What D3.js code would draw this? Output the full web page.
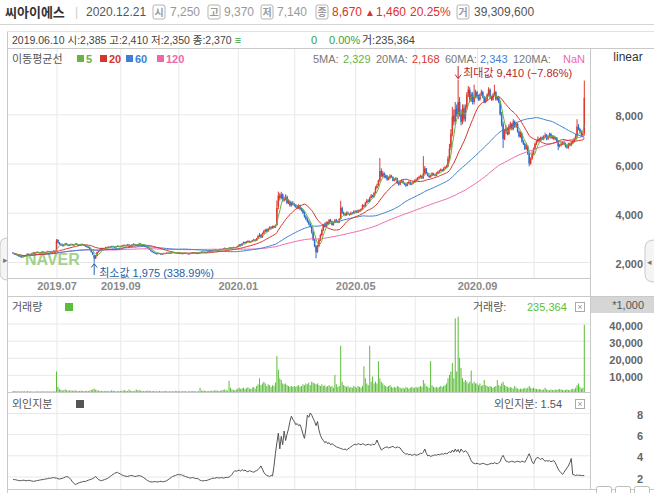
<!DOCTYPE html>
<html><head><meta charset="utf-8">
<script src="https://cdn.jsdelivr.net/npm/d3@7"></script>
<style>
body{margin:0;background:#fff}
svg{display:block}
text{font-family:'Liberation Sans','Noto Sans CJK KR',sans-serif}
</style>
</head><body><svg id="c" width="654" height="493"></svg>
<script>
// ---------------- DATA (daily, 2019.05.20 – 2020.12.21) ----------------
const close = [
2350,2320,2300,2260,2240,2210,2200,2230,2250,2280,2300,2290,2320,2350,2370,2380,2400,2380,2360,2390,2420,2400,2380,2410,2440,2420,2400,2430,2450,2430,
2850,2780,2720,2700,2650,2680,2740,2700,2660,2700,2720,2690,2700,2730,2710,2680,2700,2720,2690,2660,2640,2600,2580,
2500,2400,2300,2150,2250,2400,2450,2500,2550,2520,2560,2600,2580,2620,2600,2640,2620,2600,2630,2650,2620,
2640,2660,2680,2650,2690,2700,2680,2660,2700,2720,2700,2680,2710,2740,2720,2700,2680,2650,2600,
2550,2500,2450,2400,2380,2350,2330,2360,2340,2310,2330,2360,2350,2380,2370,2350,2380,2400,2390,2370,2380,
2380,2360,2340,2350,2370,2360,2340,2330,2350,2370,2390,2380,2360,2350,2370,2400,2420,2410,2390,2400,2420,
2440,2460,2450,2480,2500,2480,2470,2500,2520,2510,2540,2560,2530,2550,2580,2560,2590,2600,2580,2610,
2650,2700,2680,2750,2800,2780,2820,2850,2800,2830,2880,2900,2860,2950,3050,3100,3000,3150,3250,
3300,3250,3350,3400,3380,3450,3400,3500,4200,4700,4600,4750,4500,4550,4650,4400,4450,4300,4400,4350,
4300,4250,4200,4300,4150,4100,4000,3850,3750,3650,3550,3450,3200,2900,2650,2400,2650,2900,3100,3300,3500,3450,
3600,3550,3700,3650,3500,3600,3700,3650,3600,3750,4200,4000,3950,3900,4000,3950,3920,4000,3960,4050,
4050,4000,4100,4080,4150,4300,4250,4400,4500,4450,4600,4700,4650,4800,5000,5100,5300,5700,5500,
5600,5450,5500,5350,5400,5500,5450,5300,5350,5400,5200,5150,5250,5300,5200,5150,5100,5200,5250,5150,5200,5250,
5300,5350,5400,5450,5500,5400,5600,5800,5600,5500,5450,5500,5600,5550,5500,5600,5650,5700,5750,5700,5800,5850,5900,
6200,6600,7200,7900,7700,8200,8000,8500,8000,7700,8200,7800,8300,8800,9000,8600,8800,8500,8700,8900,
8700,8600,8800,8900,8700,8500,8600,8800,9000,8700,8600,8800,8900,8600,8700,8500,8000,7600,7000,7300,
7400,7200,7500,7600,7400,7700,7500,7600,7300,7100,7200,6900,6800,6600,6700,6400,6000,6200,6400,
6600,6800,6900,7000,6950,7050,7000,7100,7150,7000,7100,7200,7050,7100,7000,7050,6900,6700,6750,6800,6850,
6800,6700,6650,6800,6750,6850,6900,7000,7100,7500,7400,7300,7150,7210,8670];
const open = [
2380,2350,2330,2300,2270,2250,2220,2200,2230,2260,2280,2310,2290,2320,2385,2370,2380,2410,2390,2360,2390,2420,2400,2380,2410,2440,2420,2400,2430,2460,
2450,2900,2790,2730,2700,2650,2690,2750,2700,2660,2700,2720,2690,2700,2740,2710,2680,2700,2730,2690,2670,2640,2610,
2580,2500,2400,2280,2150,2250,2400,2450,2500,2560,2520,2560,2600,2580,2620,2600,2640,2620,2600,2630,2650,
2620,2640,2660,2690,2650,2690,2710,2680,2660,2700,2730,2700,2680,2710,2750,2720,2700,2680,2650,
2600,2550,2500,2450,2400,2380,2350,2330,2360,2340,2310,2330,2360,2350,2380,2370,2350,2380,2400,2390,2370,
2380,2380,2360,2340,2350,2370,2360,2340,2330,2350,2370,2390,2380,2360,2350,2370,2400,2420,2410,2390,2400,
2420,2440,2460,2450,2480,2500,2480,2470,2500,2520,2510,2540,2560,2530,2550,2580,2560,2590,2600,2580,
2610,2650,2710,2680,2750,2810,2780,2820,2860,2800,2830,2880,2910,2860,2950,3050,3110,3000,3150,
3250,3310,3250,3350,3410,3380,3460,3400,3500,4250,4700,4600,4750,4500,4550,4650,4400,4450,4300,4400,
4350,4300,4250,4200,4300,4150,4100,4000,3850,3750,3650,3550,3450,3200,2900,2650,2400,2650,2900,3100,3300,3500,
3450,3600,3550,3700,3650,3500,3600,3700,3650,3600,3750,4200,4000,3950,3900,4000,3950,3920,4000,3960,
4050,4060,4000,4100,4080,4150,4300,4250,4400,4500,4450,4600,4700,4650,4800,5000,5100,5300,5700,
5500,5600,5450,5500,5350,5400,5500,5450,5300,5350,5400,5200,5150,5250,5300,5200,5150,5100,5200,5250,5150,5200,
5250,5300,5350,5400,5450,5500,5400,5600,5800,5600,5500,5450,5500,5600,5550,5500,5600,5650,5700,5750,5700,5800,5850,
5900,6200,6650,7200,7950,7700,8250,8000,8500,8000,7700,8250,7800,8300,8800,9000,8600,8800,8500,8700,
8900,8700,8600,8800,8900,8700,8500,8600,8800,9000,8700,8600,8800,8900,8600,8700,8500,8000,7600,7000,
7300,7400,7200,7500,7600,7400,7700,7500,7600,7300,7100,7200,6900,6800,6600,6700,6400,6000,6200,
6400,6600,6800,6900,7000,6950,7050,7000,7100,7150,7000,7100,7200,7050,7100,7000,7050,6900,6700,6750,6800,
6850,6800,6700,6650,6800,6750,6850,6900,7000,7100,7500,7400,7300,7150,7250];
const high = [
2400,2370,2350,2320,2290,2260,2240,2250,2270,2300,2320,2330,2340,2370,2410,2400,2420,2430,2400,2400,2440,2430,2410,2420,2460,2450,2430,2450,2480,2470,
2930,2920,2810,2760,2720,2700,2780,2770,2720,2720,2750,2740,2720,2760,2770,2720,2720,2750,2740,2700,2690,2660,2630,
2600,2520,2420,2300,2280,2420,2480,2530,2580,2580,2580,2620,2620,2640,2640,2660,2660,2630,2650,2680,2670,
2660,2680,2710,2700,2710,2730,2720,2690,2720,2760,2740,2710,2730,2780,2760,2730,2710,2690,2660,
2610,2560,2510,2460,2420,2390,2360,2380,2370,2350,2340,2380,2370,2390,2390,2380,2390,2420,2410,2400,2390,
2400,2390,2370,2360,2380,2380,2370,2350,2360,2380,2400,2400,2390,2370,2380,2410,2430,2430,2420,2410,2430,
2460,2480,2470,2500,2520,2510,2490,2510,2540,2530,2560,2590,2570,2560,2600,2590,2610,2620,2610,2630,
2670,2730,2730,2770,2830,2830,2850,2880,2870,2850,2900,2940,2920,2980,3100,3180,3120,3200,3300,
3350,3350,3380,3450,3450,3480,3480,3520,4500,4860,4800,4850,4780,4650,4750,4700,4550,4500,4450,4480,
4400,4350,4300,4350,4320,4200,4150,4050,3900,3800,3700,3600,3480,3250,2950,2700,2700,2950,3150,3350,3550,3600,
3650,3650,3750,3750,3680,3650,3750,3750,3680,3780,4490,4250,4050,4000,4050,4050,3980,4050,4030,4100,
4100,4100,4130,4130,4180,4350,4330,4450,4560,4550,4650,4760,4730,4850,5080,5180,5350,6220,5800,
5700,5650,5550,5530,5450,5560,5540,5480,5400,5450,5420,5250,5300,5350,5320,5230,5200,5250,5300,5280,5230,5300,
5350,5400,5450,5500,5550,5520,6300,5900,5820,5650,5550,5550,5650,5620,5580,5650,5700,5750,5800,5780,5850,5900,5950,
6300,6800,7400,8300,8200,8500,8400,9410,8700,8200,8400,8400,8400,8900,9150,9100,8900,8900,9200,9000,
8950,8800,8850,9000,8950,8750,8700,8850,9100,9050,8750,8850,9200,8950,8750,8750,8550,8100,7700,7400,
7550,7450,7600,7700,7650,7800,7750,7700,7650,7350,7300,7250,6950,6850,6800,6750,6450,6250,6500,
6650,6850,6950,7100,7050,7100,7100,7150,7250,7200,7150,7250,7250,7150,7150,7100,7080,6950,6800,6850,6900,
6900,6850,6750,6850,6850,6900,6950,7050,7200,7800,7600,7450,7350,7300,9370];
const low = [
2340,2300,2280,2250,2220,2190,2180,2190,2220,2250,2270,2280,2280,2310,2350,2360,2370,2370,2350,2350,2380,2390,2370,2370,2400,2410,2390,2390,2420,2420,
2440,2760,2700,2680,2630,2640,2680,2690,2640,2650,2690,2680,2670,2690,2700,2660,2670,2690,2680,2650,2620,2590,2560,
2480,2380,2280,1975,2120,2230,2380,2430,2480,2500,2510,2550,2560,2570,2590,2590,2610,2590,2590,2620,2610,
2600,2620,2650,2640,2640,2680,2670,2650,2650,2690,2690,2670,2670,2700,2710,2690,2670,2640,2590,
2540,2490,2430,2390,2360,2340,2310,2320,2330,2300,2300,2320,2340,2340,2360,2340,2340,2370,2380,2360,2360,
2360,2350,2330,2330,2340,2350,2330,2320,2320,2340,2360,2370,2350,2340,2340,2360,2390,2400,2380,2380,2390,
2410,2430,2440,2440,2470,2470,2460,2460,2490,2500,2500,2530,2520,2520,2540,2550,2550,2580,2570,2570,
2600,2640,2660,2670,2740,2760,2770,2810,2790,2790,2820,2870,2850,2850,2940,3020,2980,2990,3130,
3200,3220,3230,3330,3350,3360,3380,3380,3480,4150,4500,4550,4450,4450,4500,4350,4350,4250,4250,4300,
4250,4200,4150,4150,4100,4050,3950,3800,3700,3600,3500,3400,3150,2850,2600,2150,2380,2600,2850,3050,3250,3400,
3420,3520,3530,3620,3480,3480,3580,3620,3580,3580,3720,3950,3900,3860,3880,3920,3880,3900,3930,3940,
4000,3980,3990,4060,4060,4130,4220,4230,4380,4420,4430,4580,4620,4620,4780,4980,5080,5250,5450,
5450,5400,5400,5300,5320,5380,5420,5280,5280,5320,5180,5100,5120,5220,5180,5120,5050,5080,5180,5120,5120,5170,
5220,5280,5320,5380,5420,5380,5380,5550,5580,5480,5420,5420,5480,5520,5480,5480,5580,5620,5680,5680,5680,5780,5820,
5850,6100,6550,7100,7550,7600,7900,7800,7900,7550,7600,7700,7700,8200,8700,8500,8500,8400,8400,8650,
8650,8550,8550,8750,8650,8450,8450,8550,8750,8650,8550,8550,8750,8550,8550,8450,7950,7500,6630,6950,
7200,7150,7150,7400,7350,7350,7450,7450,7250,7050,7050,6850,6750,6550,6550,6350,5890,5950,6150,
6350,6550,6750,6850,6900,6900,6950,6950,7050,6950,6950,7050,7000,7000,6950,6950,6850,6550,6650,6700,6750,
6750,6650,6600,6600,6700,6700,6800,6850,6950,7050,7350,7250,7100,7100,7140];
// volume, in thousands of shares
const volume = [
600,500,450,400,500,350,400,450,380,420,500,400,350,380,235,300,350,420,380,300,450,380,350,400,420,380,300,350,420,380,
12000,3000,1800,1200,1000,900,1500,1100,800,900,1000,700,800,900,700,600,700,800,600,500,600,700,600,
900,1200,1500,2000,1300,1000,800,700,600,600,500,700,600,500,600,1000,800,600,500,500,600,
700,600,800,1100,700,600,1400,800,600,500,700,1500,900,1200,800,600,500,600,700,
800,700,600,500,600,500,400,500,600,500,400,500,600,500,400,450,500,400,450,500,600,
500,450,400,500,550,400,350,400,500,450,600,500,400,450,500,2500,700,900,800,600,500,
600,700,800,600,900,1000,700,600,800,1000,1200,1500,1000,800,6500,2500,1500,1200,1000,1500,
2000,2500,1800,2200,2500,1800,2200,2800,2000,1800,2500,3000,2000,3500,4500,8000,4000,5000,6000,
5000,3500,4500,4000,3000,4000,3500,5500,21000,13000,8000,7000,5000,4500,5000,4000,3500,3000,3500,3000,
3500,3000,3500,4000,3000,3500,4500,4000,5000,4500,5500,4000,6000,5500,5000,4500,5000,4000,3500,4500,3500,4000,
3000,3500,4000,3000,3500,2500,10000,4500,3000,3500,27000,6000,4000,3500,3000,3500,2500,3000,2500,3500,
3000,2500,3500,3000,2500,3500,15000,8000,5000,4000,27000,6000,9000,5000,6000,5000,18000,8000,6000,
5000,4000,3500,3000,3500,4000,3000,2500,3000,2500,3500,3000,2500,2000,2500,2000,3000,2500,2000,2500,3000,2500,
2500,3000,2500,3000,3500,3000,7000,5000,3500,3000,2500,18000,4000,3000,2500,3000,2500,3000,3500,3000,3500,4000,5000,
8000,10000,12000,17000,8000,43000,12000,44000,20000,14000,8000,6000,7000,6000,5000,6000,12500,5000,6000,5000,
5000,4000,5000,3500,4000,7000,4000,3500,3000,3500,3000,2500,3000,3500,7000,4000,3500,5000,6000,4000,
3500,3000,2500,3000,2500,2000,3500,2500,2000,1500,2000,1800,2000,2500,2000,2500,3500,2500,2000,
2500,2000,1800,1500,1800,1500,1200,1500,2500,1500,1200,1000,1500,1200,1000,1500,1200,1500,1800,1500,1200,
1000,1200,1500,1200,1000,1500,2000,1500,2500,4000,5000,3000,2000,2500,39310];
// foreign ownership, %
const foreign = [
1.70,1.72,1.68,1.65,1.62,1.60,1.62,1.65,1.63,1.60,1.62,1.64,1.60,1.58,1.54,1.56,1.60,1.62,1.65,1.68,1.70,1.72,1.75,1.78,1.80,1.85,1.82,1.88,1.90,1.86,
1.85,1.80,1.75,1.80,1.82,1.88,1.95,2.00,1.95,1.85,1.70,1.50,1.35,1.25,1.30,1.38,1.42,1.48,1.50,1.55,1.52,1.60,1.65,
1.70,1.75,1.80,1.90,2.00,1.85,1.70,1.65,1.60,1.65,1.70,1.75,1.80,1.90,2.00,2.10,2.20,2.30,2.35,2.40,2.30,
2.25,2.15,2.10,2.05,2.02,2.00,2.05,2.08,2.10,2.05,2.00,2.02,2.06,2.08,2.05,2.00,1.90,1.80,1.70,
1.60,1.52,1.50,1.48,1.50,1.52,1.50,1.48,1.52,1.55,1.50,1.52,1.55,1.60,1.70,1.80,1.90,2.00,2.05,2.10,2.15,
2.20,2.15,2.18,2.10,2.05,2.00,1.95,1.90,1.85,1.88,1.90,1.85,1.80,1.82,1.75,1.65,1.60,1.58,1.62,1.60,1.65,
1.70,1.75,1.80,1.85,1.82,1.88,1.90,1.85,1.88,1.90,1.85,1.88,1.92,1.90,1.95,2.05,2.20,2.40,2.55,2.50,
2.55,2.60,2.50,2.65,2.55,2.60,2.50,2.45,2.55,2.50,2.45,2.40,2.50,2.55,2.65,2.80,3.00,2.70,2.40,
2.20,2.10,2.05,2.00,2.10,2.05,3.00,4.20,5.20,6.10,4.60,5.80,5.00,6.30,5.40,6.00,6.50,7.20,7.70,7.40,
7.20,6.90,7.00,6.80,6.90,6.50,6.00,5.60,6.50,7.80,7.60,8.00,7.80,7.50,7.20,6.80,7.20,6.40,5.90,5.60,5.40,5.20,
5.30,5.10,5.20,5.00,5.10,5.00,4.90,4.80,4.75,4.70,4.65,4.60,4.55,4.60,4.50,4.60,4.70,4.80,4.90,5.00,
5.05,5.00,5.10,5.05,5.00,5.10,5.05,4.95,5.00,5.05,5.00,4.95,5.05,5.00,5.10,5.45,5.10,4.80,4.50,
4.60,4.70,4.75,4.80,4.70,4.75,4.80,4.85,4.75,4.70,4.80,4.75,4.70,4.50,4.30,4.20,4.10,4.15,4.05,4.10,4.00,4.05,
4.10,4.00,4.05,4.10,4.20,4.15,4.30,4.60,4.20,3.95,4.00,3.90,3.95,4.00,4.05,4.00,4.10,4.05,4.10,4.15,4.10,4.20,4.15,
4.20,4.35,4.25,4.50,4.30,4.60,4.35,4.55,4.25,4.60,4.40,4.30,4.45,4.30,4.10,3.80,3.50,3.30,3.25,3.20,
3.25,3.20,3.15,3.20,3.25,3.20,3.15,3.10,3.15,3.20,3.25,3.20,3.30,3.25,3.20,3.30,3.40,3.80,4.00,3.70,
3.45,3.40,3.35,3.40,3.45,3.40,3.35,3.40,3.45,3.40,3.35,3.45,3.40,3.35,3.60,3.90,4.15,3.80,3.40,
3.20,3.50,3.75,3.80,3.70,3.60,3.75,3.55,3.45,3.50,3.45,3.50,3.40,3.45,3.50,3.30,3.00,2.70,2.50,2.35,2.20,
2.40,2.60,2.80,3.00,3.30,3.70,2.20,2.15,2.10,2.15,2.10,2.12,2.10,2.08,2.10];
// axis ticks / labels
const monthGridIdx = [30,74,114,155,194,236,277,320,359];
const xLabelIdx = [30,74,155,236,320];
const xLabels = ["2019.07","2019.09","2020.01","2020.05","2020.09"];
const priceTicks = [2000,4000,6000,8000];
const volTicks = [10000,20000,30000,40000];
const frgTicks = [2,4,6,8];
const maPeriods = [5,20,60,120];
const maColors = ["#6ab343","#d5352c","#3d7fd3","#ef67ab"];

// ---------------- CHART ----------------
const N = close.length;
[open,high,low,volume,foreign].forEach((a,k)=>{ if(a.length!==N) throw new Error("length mismatch "+k+": "+a.length+" vs "+N); });

const UP="#dc3a2e", DN="#2d6dcf", GRID="#e8e8e8", BORDER="#c9c9c9";
const svg=d3.select("#c");
svg.append("rect").attr("width",654).attr("height",493).attr("fill","#fff");

const PL=8, PR=590;
const x=d3.scaleLinear().domain([0,N-1]).range([13,584.3]);
const y=d3.scaleLinear().domain([2000,8000]).range([262,114.3]);
const vy=d3.scaleLinear().domain([0,40000]).range([392,323.5]);
const fy=d3.scaleLinear().domain([2,8]).range([476.5,413]);

const defs=svg.append("defs");
defs.append("clipPath").attr("id","cp").append("rect").attr("x",PL).attr("y",48).attr("width",PR-PL).attr("height",230);
defs.append("clipPath").attr("id","cv").append("rect").attr("x",PL).attr("y",297).attr("width",PR-PL).attr("height",95);
defs.append("clipPath").attr("id","cf").append("rect").attr("x",PL).attr("y",393).attr("width",PR-PL).attr("height",96);

// grids
function vgrid(top,h){
  const g=svg.append("g").attr("transform",`translate(0,${top})`)
    .call(d3.axisBottom(x).tickValues(monthGridIdx).tickSize(h).tickFormat(""));
  g.select(".domain").remove(); g.selectAll("line").attr("stroke",GRID);
}
function hgrid(scale,ticks){
  const g=svg.append("g").attr("transform",`translate(${PL},0)`)
    .call(d3.axisRight(scale).tickValues(ticks).tickSize(PR-PL).tickFormat(""));
  g.select(".domain").remove(); g.selectAll("line").attr("stroke",GRID);
}
vgrid(48,230); vgrid(297,95); vgrid(393,96);
hgrid(y,priceTicks); hgrid(vy,volTicks); hgrid(fy,frgTicks);

// frame lines
const fr=svg.append("g").attr("stroke",BORDER).attr("shape-rendering","crispEdges");
fr.append("line").attr("x1",0).attr("x2",654).attr("y1",24.5).attr("y2",24.5).attr("stroke","#d5d5d5");
fr.append("line").attr("x1",7.5).attr("x2",7.5).attr("y1",31).attr("y2",493);
fr.append("line").attr("x1",7).attr("x2",654).attr("y1",31.5).attr("y2",31.5).attr("stroke","#e2e2e2");
fr.append("line").attr("x1",7).attr("x2",654).attr("y1",48.5).attr("y2",48.5);
fr.append("line").attr("x1",PR+.5).attr("x2",PR+.5).attr("y1",48).attr("y2",490);
fr.append("line").attr("x1",7).attr("x2",PR).attr("y1",278.5).attr("y2",278.5);
fr.append("line").attr("x1",7).attr("x2",654).attr("y1",296.5).attr("y2",296.5);
fr.append("line").attr("x1",7).attr("x2",PR).attr("y1",392.5).attr("y2",392.5);
fr.append("line").attr("x1",7).attr("x2",654).attr("y1",489.5).attr("y2",489.5);

// NAVER watermark
svg.append("text").attr("x",25).attr("y",265).text("NAVER")
  .attr("font-size",16).attr("font-weight","bold").attr("fill","#7cc05c").attr("opacity",0.7);

// candles
const cg=svg.append("g").attr("clip-path","url(#cp)");
const idx=d3.range(N);
cg.selectAll("line.w").data(idx).join("line")
  .attr("x1",i=>x(i)).attr("x2",i=>x(i))
  .attr("y1",i=>y(Math.max(high[i],open[i],close[i])))
  .attr("y2",i=>y(Math.min(low[i],open[i],close[i])))
  .attr("stroke",i=>close[i]>=open[i]?UP:DN).attr("stroke-width",1);
cg.selectAll("rect.b").data(idx).join("rect")
  .attr("x",i=>x(i)-0.75).attr("width",1.5)
  .attr("y",i=>y(Math.max(open[i],close[i])))
  .attr("height",i=>Math.max(1,Math.abs(y(open[i])-y(close[i]))))
  .attr("fill",i=>close[i]>=open[i]?UP:DN);

// moving averages
function ma(p){ return close.map((_,i)=>d3.mean(close.slice(Math.max(0,i-p+1),i+1))); }
const line=d3.line().x((d,i)=>x(i)).y(d=>y(d));
[3,2,1,0].forEach(k=>{
  cg.append("path").datum(ma(maPeriods[k])).attr("d",line)
    .attr("fill","none").attr("stroke",maColors[k]).attr("stroke-width",1);
});

// max / min markers
const iMax=d3.maxIndex(high), iMin=d3.minIndex(low);
const ann=svg.append("g");
ann.append("line").attr("x1",x(iMax)).attr("x2",x(iMax)).attr("y1",66).attr("y2",y(high[iMax])-1).attr("stroke","#b8262a");
ann.append("path").attr("d",`M${x(iMax)-3},${y(high[iMax])-5}L${x(iMax)},${y(high[iMax])-1}L${x(iMax)+3},${y(high[iMax])-5}`).attr("fill","none").attr("stroke","#b8262a");
ann.append("text").attr("x",x(iMax)+5).attr("y",77).attr("font-size",11).attr("fill","#b8262a")
  .text(`최대값 ${d3.format(",")(high[iMax])} (−${d3.format(".2f")((1-close[N-1]/high[iMax])*100)}%)`);
ann.append("line").attr("x1",x(iMin)).attr("x2",x(iMin)).attr("y1",y(low[iMin])+1).attr("y2",275).attr("stroke","#2561a8");
ann.append("path").attr("d",`M${x(iMin)-3},${y(low[iMin])+5}L${x(iMin)},${y(low[iMin])+1}L${x(iMin)+3},${y(low[iMin])+5}`).attr("fill","none").attr("stroke","#2561a8");
ann.append("text").attr("x",x(iMin)+5).attr("y",277).attr("font-size",11).attr("fill","#2561a8")
  .text(`최소값 ${d3.format(",")(low[iMin])} (${d3.format(".2f")((close[N-1]/low[iMin]-1)*100)}%)`);

// volume bars
const vg=svg.append("g").attr("clip-path","url(#cv)");
vg.selectAll("rect").data(idx).join("rect")
  .attr("x",i=>x(i)-0.5).attr("width",1)
  .attr("y",i=>vy(volume[i])).attr("height",i=>vy(0)-vy(volume[i]))
  .attr("fill","#5cbd3a");

// foreign line
svg.append("g").attr("clip-path","url(#cf)").append("path").datum(foreign)
  .attr("d",d3.line().x((d,i)=>x(i)).y(d=>fy(d)))
  .attr("fill","none").attr("stroke","#555").attr("stroke-width",1);

// axes labels
function yAxis(scale,ticks,fmt,dy){
  const g=svg.append("g").attr("transform",`translate(643,${dy})`)
    .call(d3.axisLeft(scale).tickValues(ticks).tickSize(0).tickPadding(0).tickFormat(fmt));
  g.select(".domain").remove();
  g.selectAll("text").attr("font-size",11).attr("font-weight","bold").attr("fill","#666")
    .style("font-family","'Liberation Sans',sans-serif");
}
yAxis(y,priceTicks,d3.format(","),2);
yAxis(vy,volTicks,d3.format(","),2);
yAxis(fy,frgTicks,d3.format("d"),2);

const xa=svg.append("g").attr("transform","translate(0,282)")
  .call(d3.axisBottom(x).tickValues(xLabelIdx).tickSize(0).tickPadding(0).tickFormat((d,i)=>xLabels[i]));
xa.select(".domain").remove();
xa.selectAll("text").attr("font-size",11).attr("font-weight","bold").attr("fill","#8a8a8a");

// ---------------- header / legends ----------------
function t(xp,yp,s,o={}){
  const e=svg.append("text").attr("x",xp).attr("y",yp).text(s)
    .attr("font-size",o.size||11).attr("fill",o.fill||"#333");
  if(o.bold) e.attr("font-weight","bold");
  if(o.anchor) e.attr("text-anchor",o.anchor);
  return e;
}
function box(xp,ch){
  svg.append("rect").attr("x",xp).attr("y",5).attr("width",12).attr("height",14).attr("rx",2)
    .attr("fill","#fff").attr("stroke","#b3b3b3");
  t(xp+6,16,ch,{size:10,fill:"#9a9a9a",anchor:"middle",bold:true});
}
t(5,17,"씨아이에스",{size:13,bold:true,fill:"#333"});
t(75,16,"|",{size:12,fill:"#ccc"});
t(86,16,"2020.12.21",{size:12,fill:"#555"});
box(153,"시"); t(170,16,"7,250",{size:12,fill:"#999"});
box(208,"고"); t(224,16,"9,370",{size:12,fill:"#999"});
box(261,"저"); t(277,16,"7,140",{size:12,fill:"#999"});
box(316,"종"); t(332,16,"8,670",{size:12,fill:"#e0302a"});
t(365,16,"▲",{size:10,fill:"#e0302a"}); t(376,16,"1,460",{size:12,fill:"#e0302a"});
t(410,16,"20.25%",{size:12,fill:"#e0302a"});
box(457,"거"); t(474,16,"39,309,600",{size:12,fill:"#555"});

// info row
const info=t(12,44,"2019.06.10 시:2,385 고:2,410 저:2,350 종:2,370",{size:10.5,fill:"#444"});
const infoW=info.node().getComputedTextLength();
t(12+infoW+3,44,"≡",{size:11,fill:"#3aa13a"});
t(311,44,"0",{size:11,fill:"#3aa13a"});
t(329,44,"0.00%",{size:11,fill:"#3aa13a"});
t(362,44,"거:235,364",{size:11,fill:"#444"});

// price legend
t(12,63,"이동평균선",{size:11,fill:"#555"});
const legX=[77,100,126,157];
maPeriods.forEach((p,k)=>{
  svg.append("rect").attr("x",legX[k]).attr("y",55).attr("width",7).attr("height",7).attr("fill",maColors[k]);
  t(legX[k]+9,63,String(p),{size:11,bold:true,fill:maColors[k]});
});
t(313,63,"5MA:",{fill:"#777"}); t(343,63,"2,329",{fill:"#6ab343"});
t(376,63,"20MA:",{fill:"#777"}); t(412,63,"2,168",{fill:"#d5352c"});
t(445,63,"60MA:",{fill:"#777"}); t(480,63,"2,343",{fill:"#3d7fd3"});
t(513,63,"120MA:",{fill:"#777"}); t(563,63,"NaN",{fill:"#ef67ab"});
t(628,61,"linear",{size:12,fill:"#333",anchor:"middle"});

// volume legend
t(12,311,"거래량",{size:11,fill:"#555"});
svg.append("rect").attr("x",65).attr("y",303).attr("width",8).attr("height",8).attr("fill","#5cbd3a");
t(473,311,"거래량:",{size:11,fill:"#555"});
t(527,311,"235,364",{size:11,fill:"#5cbd3a"});
svg.append("rect").attr("x",575.5).attr("y",302.5).attr("width",9).attr("height",9).attr("fill","#fff").attr("stroke","#aaa");
t(580,310,"×",{size:9,fill:"#999",anchor:"middle"});
svg.append("rect").attr("x",591).attr("y",297).attr("width",63).attr("height",16).attr("fill","#d6d6d6");
t(644,309,"*1,000",{size:11,fill:"#555",anchor:"end"});

// foreign legend
t(12,408,"외인지분",{size:11,fill:"#555"});
svg.append("rect").attr("x",76).attr("y",400).attr("width",8).attr("height",8).attr("fill","#555");
t(494,408,"외인지분: 1.54",{size:11,fill:"#555"});
svg.append("rect").attr("x",575.5).attr("y",399.5).attr("width",9).attr("height",9).attr("fill","#fff").attr("stroke","#aaa");
t(580,407,"×",{size:9,fill:"#999",anchor:"middle"});

// side tabs
svg.append("path").attr("d","M7,238 Q0,238 0,246 L0,272 Q0,280 7,280").attr("fill","#f4f4f4").attr("stroke","#c9c9c9");
t(3,263,"▸",{size:9,fill:"#777"});
svg.append("path").attr("d","M654,240 Q645,240 645,248 L645,274 Q645,282 654,282").attr("fill","#f4f4f4").attr("stroke","#c9c9c9");
t(647,265,"◂",{size:9,fill:"#777"});
// bottom buttons
[596,615,634].forEach(bx=>svg.append("rect").attr("x",bx+.5).attr("y",486.5).attr("width",15).attr("height",8).attr("rx",2).attr("fill","#fff").attr("stroke","#bbb"));
</script>
</body></html>
